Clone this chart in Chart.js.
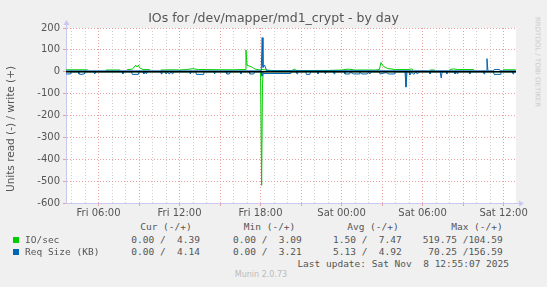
<!DOCTYPE html>
<html>
<head>
<meta charset="utf-8">
<script src="https://cdn.jsdelivr.net/npm/chart.js@4"></script>
<style>
  html,body{margin:0;padding:0;background:#f0f0f0;}
  #wrap{position:relative;width:547px;height:287px;overflow:hidden;font-family:'DejaVu Sans',sans-serif;color:#555;}
  #chartBox{position:absolute;left:0;top:0;width:547px;height:220px;}
  .t{position:absolute;white-space:pre;line-height:1;}
  .mono{font-family:'DejaVu Sans Mono',monospace;font-size:9.5px;color:#555;transform:translateY(-50%);}
  .sq{position:absolute;width:6px;height:6px;}
</style>
</head>
<body>
<div id="wrap">
  <div id="chartBox"><canvas id="c" width="547" height="220"></canvas></div>
  <div class="t" style="left:0;width:547px;text-align:center;top:12px;font-size:12.5px;color:#555;">IOs for /dev/mapper/md1_crypt - by day</div>
  <div class="t" style="left:10px;top:129px;font-size:10.5px;transform:translate(-50%,-50%) rotate(-90deg);">Units read (-) / write (+)</div>
  <div class="t" style="left:537px;top:62px;font-size:7px;color:#c8c8c8;transform:translate(-50%,-50%) rotate(90deg);">RRDTOOL / TOBI OETIKER</div>
  <div id="legend"></div>
  <div class="t" style="left:0;width:522px;text-align:center;top:271px;font-size:8px;color:#bbb;">Munin 2.0.73</div>
</div>
<script>
// time axis in hours since Fri 00:00
const X_MIN = 3.59, X_MAX = 36.92;
const tickHours = [6, 12, 18, 24, 30, 36];
const tickLabels = ['Fri 06:00', 'Fri 12:00', 'Fri 18:00', 'Sat 00:00', 'Sat 06:00', 'Sat 12:00'];

// IO/sec write (+)
const ioWriteT = [3.6,5.2,5.3,6.55,7.6,7.7,8.1,8.5,8.6,8.75,8.85,8.95,9.05,9.3,9.8,9.9,10.6,11.5,12.0,12.5,13.0,13.4,14.0,15.0,16.0,16.85,16.92,17.0,17.2,17.4,17.6,18.0,18.1,19.0,20.3,20.5,20.7,22.0,23.0,24.0,24.5,25.0,26.5,26.8,26.92,27.1,27.4,28.0,29.0,29.15,29.3,29.4,30.55,30.9,31.0,32.0,32.3,32.6,33.8,33.9,35.95,36.9];
const ioWriteV = [9,9,null,8,8,null,9,12,18,30,22,30,18,10,10,null,8,9,8,10,14,10,10,9,9,10,100,30,25,20,12,8,10,5,5,12,5,6,6,8,12,8,8,10,42,25,15,10,10,13,10,null,8,8,null,10,13,10,10,null,9,9];
// IO/sec read (-)
const ioReadT = [3.6,18.0,18.08,18.14,18.2,36.92];
const ioReadV = [0,0,-519,-60,0,0];
// Req size write (+)
const sizeWriteT = [3.6,18.05,18.12,18.18,18.3,18.45,34.7,34.77,34.84,35.25,35.3,35.7,35.75,36.92];
const sizeWriteV = [4,4,156,20,30,5,4,60,4,4,10,10,4,4];
// Req size read (-)
const sizeReadT = [3.6,3.9,3.95,4.5,4.55,4.7,4.95,5.0,5.65,5.72,5.8,7.75,7.8,7.85,8.45,8.5,8.95,9.0,9.3,9.35,9.45,9.55,9.6,
  10.6,10.65,10.7,10.95,11.0,11.1,11.25,11.35,11.5,11.55,12.75,12.8,12.85,13.2,13.25,13.75,13.8,14.55,14.6,14.65,
  15.45,15.5,15.7,15.75,16.5,16.55,16.6,17.15,17.2,17.5,17.55,18.05,18.1,18.2,20.2,20.25,20.65,20.7,20.75,
  21.35,21.4,21.65,21.7,22.2,22.25,22.3,22.75,22.8,22.85,23.4,23.45,23.5,
  24.2,24.25,24.6,24.65,24.9,25.3,25.35,25.5,25.9,26.0,26.1,26.2,26.8,26.85,27.3,27.5,27.9,27.95,
  28.7,28.77,28.85,29.0,29.05,29.2,29.35,29.5,29.6,29.8,30.5,30.55,30.6,31.3,31.38,31.45,31.75,31.8,31.85,
  32.35,32.4,32.5,32.6,32.65,33.45,33.5,33.55,34.5,34.55,34.6,35.25,35.3,35.75,35.8,36.65,36.7,36.75,36.92];
const sizeReadV = [-10,-10,0,0,-10,-12,-10,0,0,-10,0,0,-10,0,0,-12,-12,0,0,-10,-2,-10,0,
  0,-10,0,0,-10,-2,-10,-2,-10,0,0,-10,0,0,-12,-12,0,0,-10,0,
  0,-10,-10,0,0,-10,0,0,-10,-10,0,0,-20,-8,-8,0,0,-10,0,
  0,-12,-12,0,0,-10,0,0,-10,0,0,-10,0,
  0,-10,-10,-2,-10,-10,-2,-10,-10,-2,-10,0,0,-10,-4,-10,-10,0,
  0,-70,0,0,-15,-2,-12,0,-10,0,0,-10,0,0,-28,0,0,-10,0,
  0,-10,-2,-10,0,0,-10,0,0,-10,0,0,-12,-12,0,0,-10,0,0];

const GREEN = '#00cc00', BLUE = '#0066b3';
function pts(T, V){ return T.map((t,i)=>({x:t, y:V[i]})); }

const plotExtras = {
  id:'plotExtras',
  beforeDraw(chart){
    const {ctx, chartArea:a} = chart;
    ctx.save(); ctx.fillStyle='#fff';
    ctx.fillRect(a.left, a.top, a.right-a.left, a.bottom-a.top);
    ctx.restore();
  },
  afterDatasetsDraw(chart){
    const {ctx, chartArea:a, scales} = chart;
    const y0 = scales.y.getPixelForValue(0);
    ctx.save();
    ctx.strokeStyle='#000'; ctx.lineWidth=1.5;
    ctx.beginPath(); ctx.moveTo(a.left, y0); ctx.lineTo(a.right, y0); ctx.stroke();
    // axis arrows
    ctx.fillStyle='#c8c8f0'; ctx.strokeStyle='#c8c8f0'; ctx.lineWidth=1;
    ctx.beginPath(); ctx.moveTo(a.left+0.5, a.top); ctx.lineTo(a.left+0.5, a.top-4); ctx.stroke();
    ctx.beginPath(); ctx.moveTo(a.left-2.5, a.top-3); ctx.lineTo(a.left+3.5, a.top-3); ctx.lineTo(a.left+0.5, a.top-8); ctx.closePath(); ctx.fill();
    ctx.beginPath(); ctx.moveTo(a.right, a.bottom+0.5); ctx.lineTo(a.right+4, a.bottom+0.5); ctx.stroke();
    ctx.beginPath(); ctx.moveTo(a.right+3, a.bottom-2.5); ctx.lineTo(a.right+3, a.bottom+3.5); ctx.lineTo(a.right+8, a.bottom+0.5); ctx.closePath(); ctx.fill();
    ctx.restore();
  }
};

const lineOpts = {pointRadius:0, borderWidth:1, tension:0, spanGaps:false, fill:false};
new Chart(document.getElementById('c'), {
  type:'line',
  data:{ datasets:[
    {label:'Req Size write', data:pts(sizeWriteT,sizeWriteV), borderColor:BLUE, order:1, ...lineOpts},
    {label:'Req Size read', data:pts(sizeReadT,sizeReadV), borderColor:BLUE, order:1, ...lineOpts},
    {label:'IO/sec write', data:pts(ioWriteT,ioWriteV), borderColor:GREEN, order:2, ...lineOpts},
    {label:'IO/sec read', data:pts(ioReadT,ioReadV), borderColor:GREEN, order:2, ...lineOpts}
  ]},
  options:{
    responsive:false, animation:false, events:[],
    layout:{padding:{left:0, right:31, top:28, bottom:0}},
    plugins:{legend:{display:false}, tooltip:{enabled:false}, title:{display:false}},
    scales:{
      x:{
        type:'linear', min:X_MIN, max:X_MAX,
        afterFit(s){ s.height = 17; },
        afterBuildTicks(s){
          const t = [];
          for(let h=Math.ceil(X_MIN); h<=Math.floor(X_MAX); h++) t.push({value:h});
          s.ticks = t;
        },
        ticks:{autoSkip:false, maxRotation:0, padding:1, color:'#555', font:{family:'DejaVu Sans', size:10},
          callback:(v)=>{ const i = tickHours.indexOf(v); return i>=0 ? tickLabels[i] : ''; }},
        grid:{
          color:(c)=> c.tick.value % 3 === 0 ? '#eba0a0' : '#cfcfcf',
          tickColor:(c)=> c.tick.value % 3 === 0 ? '#eba0a0' : 'rgba(0,0,0,0)',
          tickLength:3, tickBorderDash:[], lineWidth:1
        },
        border:{display:true, color:'#c8c8f0', dash:[1,2]}
      },
      y:{
        min:-600, max:200,
        afterFit(s){ s.width = 66; },
        ticks:{stepSize:50, padding:3, color:'#555', font:{family:'DejaVu Sans', size:10},
          callback:(v)=> v % 100 === 0 ? String(v) : ''},
        grid:{
          color:(c)=> c.tick.value % 100 === 0 ? '#eba0a0' : '#cfcfcf',
          tickColor:(c)=> c.tick.value % 100 === 0 ? '#eba0a0' : 'rgba(0,0,0,0)',
          tickLength:3, tickBorderDash:[], lineWidth:1
        },
        border:{display:true, color:'#c8c8f0', dash:[1,2]}
      }
    }
  },
  plugins:[plotExtras]
});

// legend table (munin style)
const legNames = ['IO/sec', 'Req Size (KB)'];
const legColors = [GREEN, BLUE];
const legHeaders = ['Cur (-/+)', 'Min (-/+)', 'Avg (-/+)', 'Max (-/+)'];
const legCur = ['0.00 /  4.39', '0.00 /  4.14'];
const legMin = ['0.00 /  3.09', '0.00 /  3.21'];
const legAvg = ['1.50 /  7.47', '5.13 /  4.92'];
const legMax = ['519.75 /104.59', '70.25 /156.59'];
const lastUpdate = 'Last update: Sat Nov  8 12:55:07 2025';

const leg = document.getElementById('legend');
function txt(s, css){ const d=document.createElement('div'); d.className='t mono'; d.textContent=s; Object.assign(d.style, css); leg.appendChild(d); }
const headRight = [191.7, 295.3, 398.7, 502.7];
const colRight = [200, 301.7, 401.7, 502.7];
legHeaders.forEach((h,i)=> txt(h, {right:(547-headRight[i])+'px', top:'227px'}));
const rowY = [239.5, 252];
legNames.forEach((n,r)=>{
  const sq=document.createElement('div'); sq.className='sq'; sq.style.left='13px'; sq.style.top=(rowY[r]-3)+'px'; sq.style.background=legColors[r]; leg.appendChild(sq);
  txt(n, {left:'25px', top:rowY[r]+'px'});
  [legCur, legMin, legAvg, legMax].forEach((col,i)=> txt(col[r], {right:(547-colRight[i])+'px', top:rowY[r]+'px'}));
});
txt(lastUpdate, {right:(547-509)+'px', top:'264px'});
</script>
</body>
</html>
